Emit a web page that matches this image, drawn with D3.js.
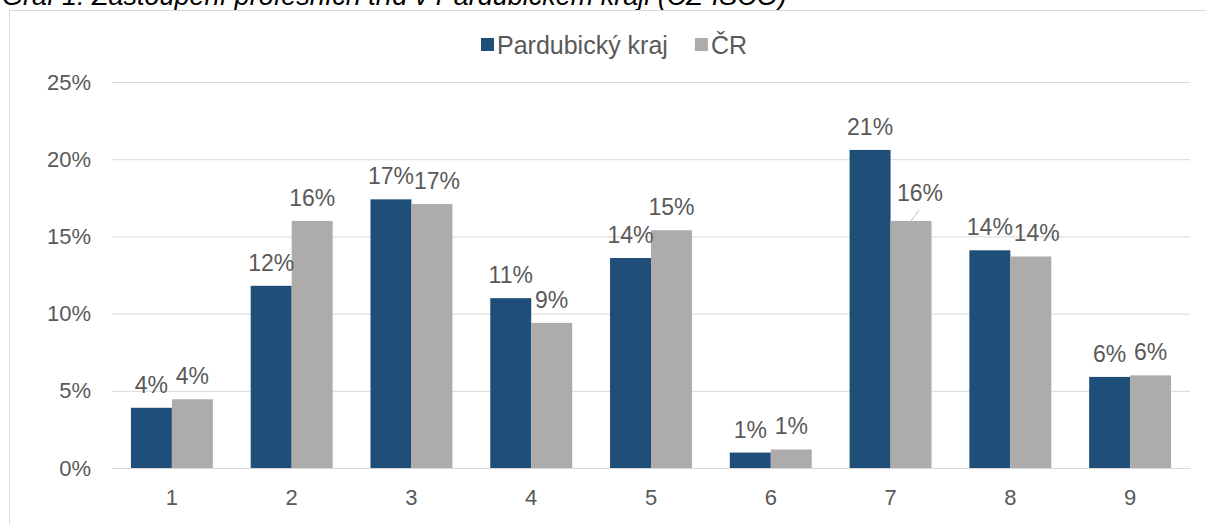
<!DOCTYPE html>
<html>
<head>
<meta charset="utf-8">
<script src="https://cdnjs.cloudflare.com/ajax/libs/d3/7.8.5/d3.min.js"></script>
<style>
  body { margin: 0; background: #fff; }
  text { font-family: "Liberation Sans", Arial, sans-serif; }
</style>
</head>
<body>
<div id="chart"></div>
<script>
// data
var categories = ["1", "2", "3", "4", "5", "6", "7", "8", "9"];
var seriesNames = ["Pardubický kraj", "ČR"];
var pardubice = [3.9, 11.8, 17.4, 11.0, 13.6, 1.0, 20.6, 14.1, 5.9];
var cr = [4.45, 16.0, 17.1, 9.4, 15.4, 1.2, 16.0, 13.7, 6.0];
var yTicks = [0, 5, 10, 15, 20, 25];
var colors = ["#1f4e79", "#aeabab"];

var w = 1206, h = 524;

var svg = d3.select("#chart").append("svg")
  .attr("width", w)
  .attr("height", h);

// caption, cut off by the top of the picture like in the source
svg.append("text")
  .attr("x", 2)
  .attr("y", 5)
  .attr("font-size", 27)
  .attr("font-style", "italic")
  .attr("fill", "#000")
  .text("Graf 1: Zastoupení profesních tříd v Pardubickém kraji (CZ-ISCO)");

// chart frame
svg.append("rect")
  .attr("x", 9.5)
  .attr("y", 10.5)
  .attr("width", w)
  .attr("height", h)
  .attr("fill", "none")
  .attr("stroke", "#d9d9d9");

var x = d3.scaleBand()
  .domain(categories)
  .range([112, 1190])
  .paddingInner(0.316)
  .paddingOuter(0.158);

var xs = d3.scaleBand()
  .domain(seriesNames)
  .range([0, x.bandwidth()]);

var y = d3.scaleLinear()
  .domain([0, 25])
  .range([468, 82]);

// gridlines + y labels
var yAxis = d3.axisLeft(y)
  .tickValues(yTicks)
  .tickSize(-(1190 - 112))
  .tickPadding(21)
  .tickFormat(function (d) { return d + "%"; });

var gy = svg.append("g")
  .attr("transform", "translate(112,0)")
  .call(yAxis);
gy.select(".domain").remove();
gy.selectAll(".tick line").attr("stroke", "#d9d9d9");
gy.selectAll(".tick text")
  .attr("font-size", 22)
  .attr("fill", "#595959")
  .attr("font-family", "Liberation Sans, Arial, sans-serif");

// category labels
var xAxis = d3.axisBottom(x).tickSize(0).tickPadding(21);
var gx = svg.append("g")
  .attr("transform", "translate(0,468)")
  .call(xAxis);
gx.select(".domain").attr("stroke", "#d9d9d9");
gx.selectAll(".tick text")
  .attr("font-size", 22)
  .attr("fill", "#595959")
  .attr("font-family", "Liberation Sans, Arial, sans-serif");

var rows = [];
categories.forEach(function (c, i) {
  rows.push({ cat: c, s: seriesNames[0], v: pardubice[i], k: 0 });
  rows.push({ cat: c, s: seriesNames[1], v: cr[i], k: 1 });
});

svg.selectAll("rect.bar")
  .data(rows)
  .enter()
  .append("rect")
  .attr("class", "bar")
  .attr("x", function (d) { return x(d.cat) + xs(d.s); })
  .attr("y", function (d) { return y(d.v); })
  .attr("width", xs.bandwidth())
  .attr("height", function (d) { return y(0) - y(d.v); })
  .attr("fill", function (d) { return colors[d.k]; });

// labels Excel had to move away from each other
var nudge = { "7|ČR": [9, -5], "3|ČR": [5, 0], "8|ČR": [6, 0] };

svg.selectAll("text.lbl")
  .data(rows)
  .enter()
  .append("text")
  .attr("class", "lbl")
  .attr("text-anchor", "middle")
  .attr("font-size", 23)
  .attr("fill", "#595959")
  .attr("x", function (d) {
    var n = nudge[d.cat + "|" + d.s];
    return x(d.cat) + xs(d.s) + xs.bandwidth() / 2 + (n ? n[0] : 0);
  })
  .attr("y", function (d) {
    var n = nudge[d.cat + "|" + d.s];
    return y(d.v) - 15 + (n ? n[1] : 0);
  })
  .text(function (d) { return Math.round(d.v) + "%"; });

// leader line for the moved 16% label
var lead = rows.filter(function (d) { return d.cat == "7" && d.k == 1; })[0];
var lx = x(lead.cat) + xs(lead.s) + xs.bandwidth() / 2;
svg.append("line")
  .attr("x1", lx)
  .attr("y1", y(lead.v))
  .attr("x2", lx + 8)
  .attr("y2", y(lead.v) - 11)
  .attr("stroke", "#bfbfbf");

// legend
var legend = svg.append("g").attr("transform", "translate(481,45)");
var lx0 = 0;
seriesNames.forEach(function (name, i) {
  legend.append("rect")
    .attr("x", lx0)
    .attr("y", -7)
    .attr("width", 13)
    .attr("height", 13)
    .attr("fill", colors[i]);
  var t = legend.append("text")
    .attr("x", lx0 + 16)
    .attr("y", 0)
    .attr("dy", "0.35em")
    .attr("font-size", 25)
    .attr("fill", "#595959")
    .text(name);
  lx0 += 16 + t.node().getComputedTextLength() + 27;
});
</script>
</body>
</html>
